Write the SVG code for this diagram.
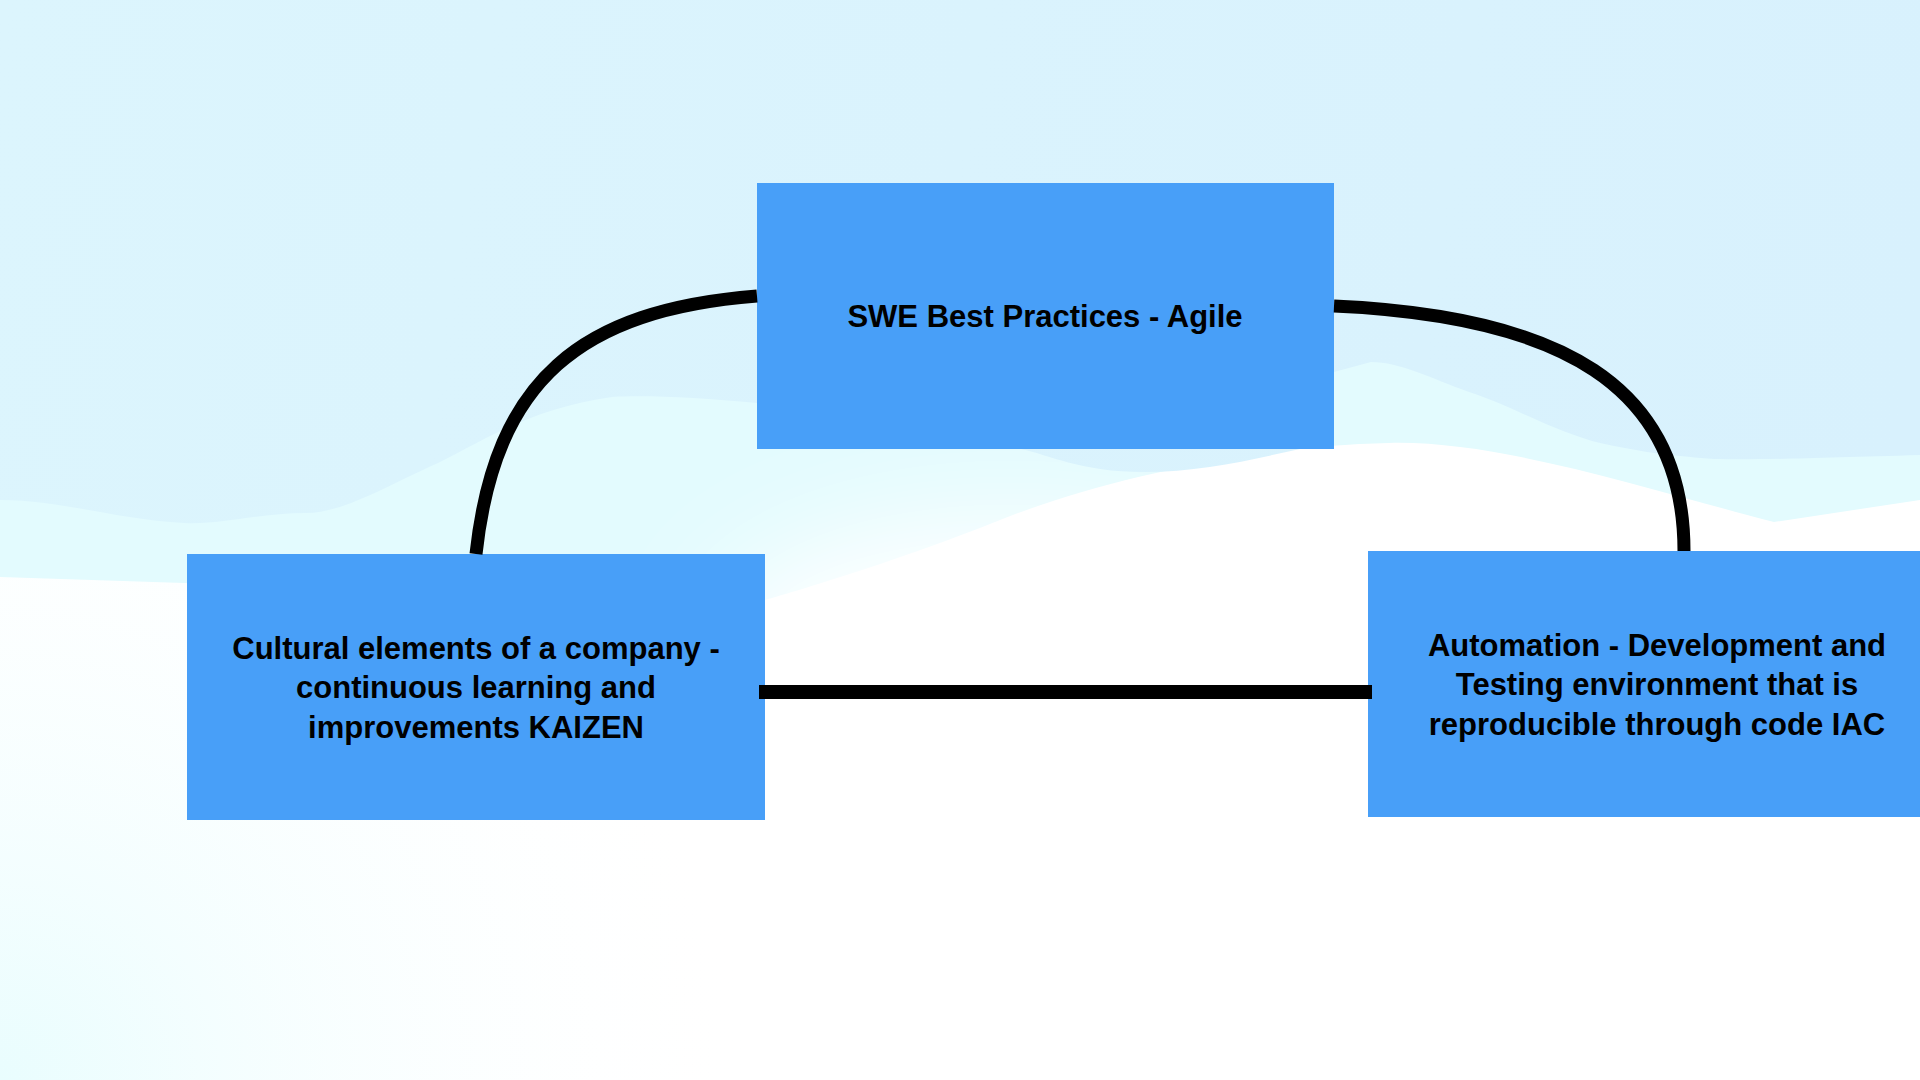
<svg xmlns="http://www.w3.org/2000/svg" width="1920" height="1080" viewBox="0 0 1920 1080">
  <defs>
    <style>
      .node { fill: #489ff8; }
      .label { font-family: "Liberation Sans", Arial, Helvetica, sans-serif; font-weight: bold; font-size: 31px; fill: #000000; text-anchor: middle; }
      .conn { fill: none; stroke: #000000; stroke-width: 13; }
    </style>
    <radialGradient id="bl" cx="0" cy="1080" r="760" gradientUnits="userSpaceOnUse">
      <stop offset="0" stop-color="#e9fdfe" stop-opacity="1"/>
      <stop offset="1" stop-color="#ffffff" stop-opacity="0"/>
    </radialGradient>
    <linearGradient id="sky" x1="0" y1="0" x2="1920" y2="300" gradientUnits="userSpaceOnUse">
      <stop offset="0" stop-color="#dcf5fd"/>
      <stop offset="1" stop-color="#d8f1fd"/>
    </linearGradient>
    <filter id="soft" x="-50%" y="-50%" width="200%" height="200%">
      <feGaussianBlur stdDeviation="55"/>
    </filter>
  </defs>

  <!-- background -->
  <rect x="0" y="0" width="1920" height="1080" fill="#ffffff"/>
  <rect x="0" y="0" width="1920" height="1080" fill="url(#bl)"/>
  <path d="M0,0 H1920 V500 L1774,522 C1650,490 1500,440 1389,443 C1250,446 1100,480 1000,520 C900,560 800,590 765,600 L184,583 L0,577 Z" fill="#e3fbfe"/>
  <ellipse cx="1010" cy="650" rx="300" ry="130" fill="#ffffff" filter="url(#soft)"/>
  <path d="M0,0 H1920 V455 C1820,458 1760,460 1714,459 C1660,455 1630,450 1592,441 C1540,425 1510,405 1469,392 C1430,378 1400,362 1371,362 L1334,372 L1300,449 C1250,460 1200,472 1144,472 C1080,472 1050,455 1021,449 L900,420 L757,403 C700,398 650,395 612,397 C520,410 470,450 429,467 C380,490 340,513 306,513 C260,513 220,525 184,523 C120,520 60,500 0,500 Z" fill="url(#sky)"/>

  <!-- nodes -->
  <g id="node-agile">
    <rect class="node" x="757" y="183" width="577" height="266"/>
    <text class="label" x="1045" y="327">SWE Best Practices - Agile</text>
  </g>
  <g id="node-culture">
    <rect class="node" x="187" y="554" width="578" height="266"/>
    <text class="label" x="476" y="659">Cultural elements of a company -</text>
    <text class="label" x="476" y="698">continuous learning and</text>
    <text class="label" x="476" y="738">improvements KAIZEN</text>
  </g>
  <g id="node-automation">
    <rect class="node" x="1368" y="551" width="576" height="266"/>
    <text class="label" x="1657" y="656">Automation - Development and</text>
    <text class="label" x="1657" y="695">Testing environment that is</text>
    <text class="label" x="1657" y="735">reproducible through code IAC</text>
  </g>

  <!-- connectors -->
  <g id="connectors">
    <path class="conn" d="M757,296 C580,310 495,380 476,554"/>
    <path class="conn" d="M1334,306 C1560,316 1684,385 1684,551"/>
    <path class="conn" d="M759,692 H1372" style="stroke-width:14"/>
  </g>
</svg>
